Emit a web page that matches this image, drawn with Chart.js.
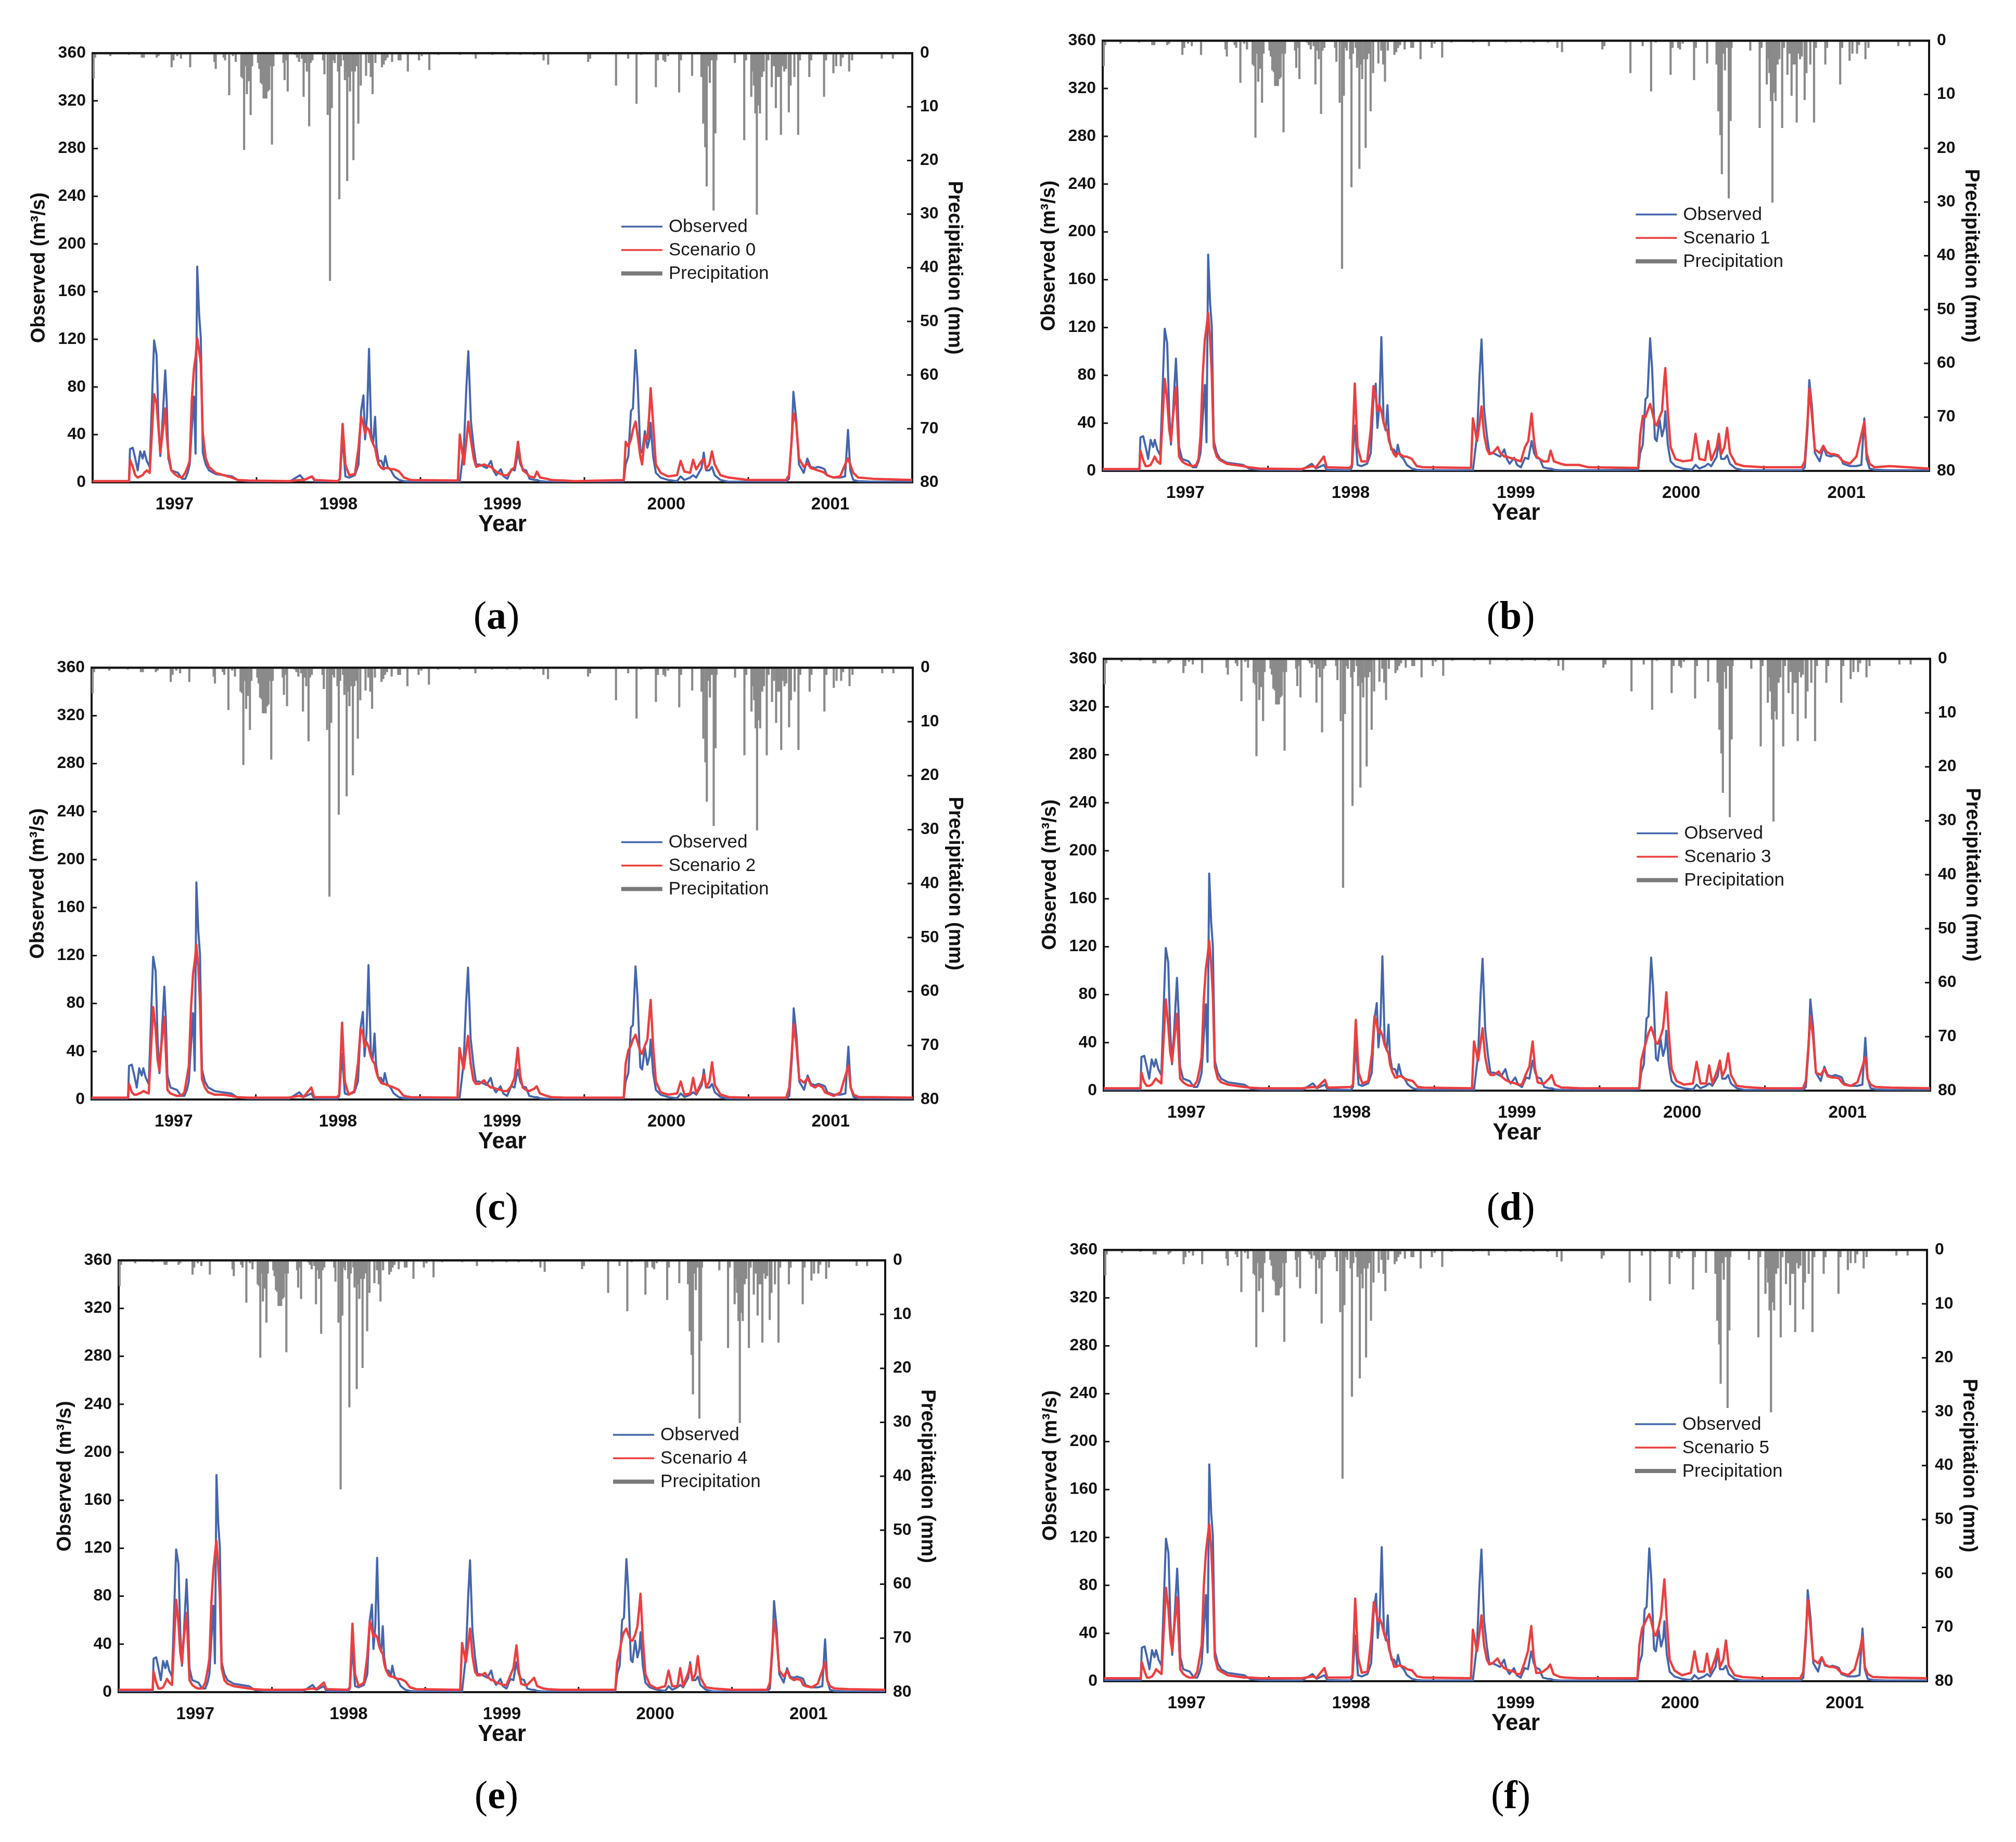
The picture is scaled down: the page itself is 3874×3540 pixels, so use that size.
<!DOCTYPE html>
<html>
<head>
<meta charset="utf-8">
<script src="https://cdn.jsdelivr.net/npm/chart.js@4.4.1/dist/chart.umd.min.js"></script>
<style>
html,body{margin:0;padding:0;background:#fff;}
#page{position:relative;width:3874px;height:3540px;overflow:hidden;background:#fff;}
.panel{position:absolute;}
.panel canvas{display:block;}
.cap{position:absolute;font-family:"Liberation Serif","DejaVu Serif",serif;font-size:76px;color:#000;transform:translate(-50%,-50%);white-space:nowrap;line-height:1;}
.cap b{font-weight:bold;}
</style>
</head>
<body>
<div id="page"></div>
<script>
// ---------------- DATA ----------------
const YEAR_LABELS = [1997, 1998, 1999, 2000, 2001];
const YEAR_MARKS = [1997.5, 1998.5, 1999.5, 2000.5];

const T_FLOW = [
1996.500,1996.722,1996.728,1996.745,1996.760,1996.775,1996.790,1996.805,1996.815,1996.830,
1996.848,1996.875,1996.890,1996.902,1996.913,1996.925,1996.943,1996.952,1996.962,1996.980,
1997.000,1997.020,1997.045,1997.065,1997.080,1997.092,1997.105,1997.118,1997.128,1997.138,
1997.150,1997.160,1997.172,1997.190,1997.210,1997.250,1997.300,1997.350,1997.385,1997.450,
1997.700,1997.765,1997.790,1997.838,1997.855,1997.995,1998.008,1998.025,1998.042,1998.065,
1998.100,1998.122,1998.138,1998.152,1998.162,1998.174,1998.186,1998.200,1998.212,1998.223,
1998.232,1998.245,1998.262,1998.275,1998.285,1998.300,1998.320,1998.340,1998.370,1998.400,
1998.440,1998.728,1998.740,1998.765,1998.780,1998.792,1998.808,1998.825,1998.840,1998.860,
1998.890,1998.905,1998.930,1998.945,1998.962,1998.990,1999.007,1999.030,1999.055,1999.075,
1999.095,1999.110,1999.125,1999.145,1999.165,1999.195,1999.210,1999.230,1999.270,1999.300,
1999.380,1999.440,1999.740,1999.752,1999.768,1999.784,1999.796,1999.812,1999.824,1999.841,
1999.852,1999.869,1999.884,1999.897,1999.904,1999.919,1999.936,1999.965,2000.010,2000.065,
2000.087,2000.110,2000.145,2000.163,2000.182,2000.215,2000.228,2000.242,2000.262,2000.278,
2000.295,2000.330,2000.380,2000.500,2000.730,2000.748,2000.764,2000.775,2000.792,2000.809,
2000.838,2000.860,2000.880,2000.905,2000.925,2000.950,2000.965,2000.980,2001.020,2001.060,
2001.090,2001.108,2001.122,2001.140,2001.170,2001.260,2001.500
];

const OBSERVED = [
1,1,28,29,20,10,26,20,26,18,
13,119,107,50,22,48,94,67,20,10,
9,8,3,3,8,15,45,72,24,181,
140,121,25,15,10,7,6,5,2,1,
0.5,6,2,5,1,0.5,3,38,5,4,
6,15,60,73,36,55,112,40,34,55,
29,18,18,13,22,13,10,5,2,1,
0.5,0.5,0.5,30,80,110,51,29,15,15,
13,12,18,10,6,11,5,3,11,10,
25,15,11,10,3,2,2,1,0.5,0.5,
0.5,0.5,1,15,22,60,62,111,86,27,
25,43,29,36,50,22,8,4,2,1,
5,2,4,6,4,12,25,10,10,13,
6,2,0.5,0.5,0.5,3,34,76,53,15,
8,20,13,12,13,12,11,6,4,4,
5,44,10,2,1,0.5,0.5
];

const SCENARIO_0 = [
1,1,19,13,6,4,5,6,8,10,
8,74,66,45,25,39,62,40,25,10,
7,5,4,8,13,18,69,95,105,121,
110,100,41,20,13,8,6,4,2,1.5,
1,2,2,5,2,1,3,49,15,6,
7,29,55,48,41,46,44,36,32,29,
22,15,12,11,12,12,11,11,9,4,
2,1.5,40,15,35,51,35,20,13,14,
15,14,13,11,9,7,6,6,10,13,
34,18,10,8,5,4,9,4,3,2,
1.5,1,2,34,30,36,44,51,40,22,
15,39,36,60,79,50,15,8,5,6,
18,9,8,19,11,18,20,11,15,26,
15,6,4,2,2,6,35,58,50,20,
13,16,12,11,10,9,8,6,4,5,
15,20,15,8,4,3,2
];

const SCENARIO_1 = [
1.5,1.5,17,9,4,4,5,9,12,8,
6,77,60,35,25,45,70,40,12,8,
6,5,4,5,10,30,80,110,120,132,
110,80,20,12,9,6,5,4,3,2,
1.5,4,3,12,3,2.5,5,73,20,8,
8,35,71,62,50,55,50,40,36,33,
25,20,14,12,15,14,12,12,10,4,
3,2.5,44,25,40,54,30,18,14,15,
20,15,12,12,11,10,9,8,20,25,
48,25,12,10,8,8,17,8,6,5,
5,3,2.5,30,46,45,50,56,50,40,
38,45,50,75,86,50,20,10,8,9,
31,10,9,25,9,20,31,14,20,36,
15,6,4,3,3,8,40,69,45,18,
15,21,16,14,14,13,10,8,6,12,
30,41,15,6,3,4,2
];

const SCENARIO_2 = [
1.5,1.5,13,6,4,4,5,6,7,6,
5,77,58,33,24,45,69,40,8,5,
4,3,3,6,18,28,75,105,115,129,
110,80,17,10,6,4,4,3,2,1.5,
1.5,3,2,10,2,2,4,64,15,4,
7,30,59,55,44,48,44,36,32,30,
24,18,14,13,13,12,11,10,8,3,
2,1.5,43,25,40,53,30,16,13,13,
16,13,10,10,9,8,7,7,11,18,
43,20,10,8,7,9,11,5,3,2,
1.5,1.5,1.5,30,41,45,50,54,48,40,
38,45,50,72,83,45,15,6,4,5,
15,4,5,18,5,15,21,10,15,31,
12,4,2,1.5,1.5,10,40,63,45,17,
14,18,12,10,12,10,6,5,3,6,
20,28,10,4,2,2,1.5
];

const SCENARIO_3 = [
2,2,15,7,4,4,5,8,10,8,
6,76,55,32,24,40,64,38,10,7,
5,4,4,8,18,28,75,102,112,125,
105,80,20,10,7,5,4,3,2.5,2,
2,3,2.5,9,2.5,3,5,59,15,6,
8,30,62,55,48,50,46,38,34,31,
22,16,11,11,12,12,10,9,8,3,
2.5,2,41,25,40,52,28,16,13,13,
16,12,9,8,7,6,5,5,14,20,
41,18,7,6,6,10,13,5,2.5,2.5,
2,2,2,25,34,42,48,53,48,40,
39,45,52,70,82,48,18,8,5,6,
24,6,6,21,6,18,25,12,18,31,
13,4,3,2,2,8,38,62,45,15,
13,18,12,11,11,10,7,5,4,7,
20,28,10,5,3,2.5,2
];

const SCENARIO_4 = [
2,2,17,8,3,3,4,8,11,8,
6,77,58,33,24,45,66,40,10,6,
4,3,3,8,18,28,75,102,115,126,
105,80,20,10,7,5,4,3,2.5,2,
2,3,2.5,8,2.5,2,4,57,15,5,
8,30,59,52,46,48,46,38,34,32,
24,18,14,13,13,12,11,11,9,4,
2.5,2,41,25,40,53,30,17,14,14,
16,13,10,10,8,7,6,6,14,20,
39,18,7,6,6,10,12,5,3,2.5,
2,2,2,25,34,45,50,53,48,43,
43,48,55,72,82,45,15,6,3,5,
18,5,5,20,5,16,23,10,15,30,
12,4,3,2,2,8,38,60,45,18,
13,18,12,10,11,10,6,5,4,7,
18,25,10,5,3,2.5,2
];

const SCENARIO_5 = [
2.5,2.5,16,8,3,3,4,7,10,8,
6,78,60,35,25,45,70,40,10,6,
4,3,3,8,20,30,80,108,120,131,
110,80,20,10,8,5,4,3,3,2.5,
2.5,4,3,11,3,3,5,69,20,7,
8,35,66,58,50,52,48,40,36,33,
26,20,12,12,13,13,12,10,9,4,
3,2.5,43,25,40,55,30,18,14,15,
19,15,11,10,9,8,6,6,16,25,
46,20,7,7,8,11,14,6,3.5,3,
2.5,2.5,2.5,30,44,48,52,56,50,40,
38,45,55,75,85,50,18,9,5,7,
25,8,8,23,7,20,27,12,18,34,
13,5,3.5,2.5,2.5,8,40,68,45,18,
15,20,14,12,12,11,9,7,5,10,
25,37,12,6,3.5,3,2.5
];

const PRECIP_T = [
1996.506,1996.515,1996.608,1996.721,1996.800,1996.812,1996.891,1996.902,1996.982,1996.993,
1997.016,1997.039,1997.095,1997.243,1997.251,1997.299,1997.308,1997.333,1997.356,1997.373,
1997.407,1997.416,1997.424,1997.432,1997.441,1997.452,1997.464,1997.473,1997.509,1997.517,
1997.526,1997.535,1997.543,1997.551,1997.560,1997.569,1997.577,1997.586,1997.594,1997.603,
1997.664,1997.671,1997.683,1997.690,1997.736,1997.747,1997.759,1997.776,1997.787,1997.798,
1997.807,1997.821,1997.830,1997.841,1997.906,1997.914,1997.934,1997.948,1997.959,1997.968,
1997.977,1997.997,1998.005,1998.014,1998.031,1998.039,1998.048,1998.053,1998.061,1998.070,
1998.082,1998.091,1998.100,1998.110,1998.121,1998.136,1998.168,1998.185,1998.197,1998.208,
1998.225,1998.265,1998.276,1998.287,1998.299,1998.327,1998.367,1998.378,1998.423,1998.491,
1998.508,1998.554,1998.610,1998.741,1998.837,1998.939,1999.030,1999.109,1999.194,1999.251,
1999.279,1999.523,1999.535,1999.693,1999.767,1999.818,1999.846,1999.936,1999.948,1999.982,
1999.993,2000.010,2000.078,2000.089,2000.157,2000.214,2000.225,2000.237,2000.246,2000.255,
2000.265,2000.277,2000.288,2000.299,2000.305,2000.418,2000.475,2000.486,2000.518,2000.526,
2000.534,2000.543,2000.552,2000.560,2000.571,2000.583,2000.594,2000.611,2000.622,2000.643,
2000.656,2000.668,2000.679,2000.690,2000.699,2000.707,2000.719,2000.730,2000.747,2000.758,
2000.781,2000.804,2000.815,2000.872,2000.883,2000.962,2000.974,2001.019,2001.036,2001.064,
2001.076,2001.115,2001.133,2001.314,2001.382
];

const PRECIP_MM = [
4.7,0.8,0.5,0.3,0.8,0.8,0.8,0.5,2.6,1.3,
0.5,1.0,2.6,1.6,2.9,0.8,1.3,7.8,0.5,1.6,
4.4,4.7,18.0,2.4,7.6,5.2,11.5,2.4,1.8,2.9,
5.5,5.8,8.4,8.4,8.4,7.1,6.8,2.4,17.0,2.4,
1.8,5.0,1.3,7.1,0.3,0.8,1.6,1.0,8.1,1.8,
3.4,13.6,1.8,1.3,1.3,3.9,11.5,42.4,10.2,1.3,
1.8,3.4,27.2,2.4,1.3,5.0,3.4,23.8,4.4,7.1,
3.4,19.9,3.4,2.4,13.1,6.0,4.2,1.8,4.4,7.6,
1.8,2.6,2.1,1.3,0.8,1.6,1.3,1.3,3.4,1.3,
0.5,3.1,0.3,0.3,1.0,0.3,0.3,0.3,0.3,1.3,
2.1,1.6,1.0,6.0,1.0,9.4,0.3,6.3,1.3,1.3,
1.6,0.5,7.3,1.3,4.2,4.4,13.1,17.5,24.8,2.4,
5.5,1.3,29.3,14.9,1.3,1.8,16.2,1.3,8.1,3.4,
6.0,11.2,30.1,9.7,11.2,4.4,3.4,16.2,1.3,6.3,
2.4,10.2,4.4,4.4,15.2,2.4,3.4,2.9,11.0,6.0,
4.4,15.2,1.3,4.4,1.3,8.1,1.3,3.7,2.4,2.4,
0.8,3.4,1.3,1.0,1.0
];

const SCENARIO_NAMES = ['Scenario 0','Scenario 1','Scenario 2','Scenario 3','Scenario 4','Scenario 5'];
const SCENARIO_SERIES = [SCENARIO_0, SCENARIO_1, SCENARIO_2, SCENARIO_3, SCENARIO_4, SCENARIO_5];
const PANEL_LETTERS = ['a','b','c','d','e','f'];

// ---------------- LAYOUT / STYLE ----------------
const PANEL_BOXES = [
  {L:178,  T:98,   R:1753, B:927,  cx:954,  cy:1182},
  {L:2119, T:74,   R:3707, B:905,  cx:2903, cy:1182},
  {L:176,  T:1279, R:1754, B:2113, cx:954,  cy:2318},
  {L:2121, T:1262, R:3709, B:2096, cx:2903, cy:2318},
  {L:228,  T:2418, R:1701, B:3252, cx:954,  cy:3449},
  {L:2122, T:2398, R:3703, B:3231, cx:2903, cy:3449}
];
const PAD_L = 125, PAD_R = 103, PAD_T = 30, PAD_B = 108;
const FONT = '"Liberation Sans", Arial, Helvetica, sans-serif';
const BLUE = '#4566ad', RED = '#ec3f3f', GRAY = '#8a8a8a', AXIS = '#161616', TXT = '#111';

const framePlugin = {
  id: 'frame',
  beforeDatasetsDraw(chart) {
    const {ctx, chartArea: a, scales} = chart;
    ctx.save();
    ctx.strokeStyle = AXIS;
    ctx.lineWidth = 4;
    ctx.strokeRect(a.left, a.top, a.right - a.left, a.bottom - a.top);
    ctx.lineWidth = 3;
    ctx.beginPath();
    scales.y.ticks.forEach(t => { const p = scales.y.getPixelForValue(t.value); ctx.moveTo(a.left, p); ctx.lineTo(a.left + 10, p); });
    scales.y2.ticks.forEach(t => { const p = scales.y2.getPixelForValue(t.value); ctx.moveTo(a.right, p); ctx.lineTo(a.right - 10, p); });
    YEAR_MARKS.forEach(v => { const p = scales.x.getPixelForValue(v); ctx.moveTo(p, a.bottom); ctx.lineTo(p, a.bottom - 10); });
    ctx.stroke();
    ctx.restore();
  },
  afterDatasetsDraw(chart) {
    const {ctx, chartArea: a} = chart;
    ctx.save();
    ctx.strokeStyle = AXIS;
    ctx.lineWidth = 4;
    ctx.beginPath();
    ctx.moveTo(a.left - 2, a.top); ctx.lineTo(a.right + 2, a.top);
    ctx.stroke();
    ctx.restore();
  }
};

const legendPlugin = {
  id: 'panelLegend',
  afterDatasetsDraw(chart) {
    const {ctx, chartArea: a} = chart;
    const x0 = a.left + 0.645 * (a.right - a.left);
    let y = a.top + 0.404 * (a.bottom - a.top);
    ctx.save();
    ctx.font = '35px ' + FONT;
    ctx.textBaseline = 'middle';
    ctx.textAlign = 'left';
    ctx.fillStyle = '#1a1a1a';
    chart.data.datasets.forEach(ds => {
      const isBar = ds.type === 'bar';
      ctx.strokeStyle = isBar ? '#7a7a7a' : ds.borderColor;
      ctx.lineWidth = isBar ? 8 : 3.5;
      ctx.beginPath();
      ctx.moveTo(x0, y); ctx.lineTo(x0 + 79, y);
      ctx.stroke();
      ctx.fillText(ds.label, x0 + 91, y + 1);
      y += 45;
    });
    ctx.restore();
  }
};

const page = document.getElementById('page');

PANEL_BOXES.forEach((p, k) => {
  const w = p.R - p.L + PAD_L + PAD_R;
  const h = p.B - p.T + PAD_T + PAD_B;
  const div = document.createElement('div');
  div.className = 'panel';
  div.style.left = (p.L - PAD_L) + 'px';
  div.style.top = (p.T - PAD_T) + 'px';
  div.style.width = w + 'px';
  div.style.height = h + 'px';
  const cv = document.createElement('canvas');
  cv.width = w; cv.height = h;
  cv.style.width = w + 'px'; cv.style.height = h + 'px';
  div.appendChild(cv);
  page.appendChild(div);

  const cap = document.createElement('div');
  cap.className = 'cap';
  cap.style.left = p.cx + 'px';
  cap.style.top = p.cy + 'px';
  cap.innerHTML = '(<b>' + PANEL_LETTERS[k] + '</b>)';
  page.appendChild(cap);

  const scen = SCENARIO_SERIES[k];
  new Chart(cv, {
    type: 'line',
    data: {
      datasets: [
        {
          label: 'Observed',
          data: T_FLOW.map((t, i) => ({x: t, y: OBSERVED[i]})),
          borderColor: BLUE, borderWidth: 4, pointRadius: 0, tension: 0,
          borderJoinStyle: 'round', yAxisID: 'y', xAxisID: 'x', order: 1, fill: false
        },
        {
          label: SCENARIO_NAMES[k],
          data: T_FLOW.map((t, i) => ({x: t, y: scen[i]})),
          borderColor: RED, borderWidth: 4.5, pointRadius: 0, tension: 0,
          borderJoinStyle: 'round', yAxisID: 'y', xAxisID: 'x', order: 0, fill: false
        },
        {
          type: 'bar',
          label: 'Precipitation',
          data: PRECIP_T.map((t, i) => ({x: t, y: PRECIP_MM[i]})),
          backgroundColor: GRAY, borderWidth: 0, barThickness: 3.5,
          yAxisID: 'y2', xAxisID: 'x', order: 2
        }
      ]
    },
    options: {
      responsive: false,
      animation: false,
      devicePixelRatio: 1,
      layout: {padding: {top: PAD_T, left: 0, right: 0, bottom: 0}},
      plugins: {legend: {display: false}, tooltip: {enabled: false}},
      scales: {
        x: {
          type: 'linear', min: 1996.5, max: 2001.5, offset: false,
          grid: {display: false, drawTicks: false},
          border: {display: false},
          afterBuildTicks: s => { s.ticks = YEAR_LABELS.map(v => ({value: v})); },
          ticks: {
            autoSkip: false, maxRotation: 0, minRotation: 0, padding: 23, color: TXT,
            font: {family: FONT, size: 33, weight: 'bold'},
            callback: v => String(v)
          },
          title: {display: true, text: 'Year', color: TXT, padding: 0,
                  font: {family: FONT, size: 44, weight: 'bold', lineHeight: 1.2}},
          afterFit: s => { s.height = PAD_B; }
        },
        y: {
          type: 'linear', position: 'left', min: 0, max: 360,
          grid: {display: false, drawTicks: false},
          border: {display: false},
          ticks: {stepSize: 40, padding: 13, color: TXT, font: {family: FONT, size: 32, weight: 'bold'},
                  callback: v => String(v)},
          title: {display: true, text: 'Observed (m\u00B3/s)', color: TXT, padding: 0,
                  font: {family: FONT, size: 38, weight: 'bold', lineHeight: 1.2}},
          afterFit: s => { s.width = PAD_L; }
        },
        y2: {
          type: 'linear', position: 'right', min: 0, max: 80, reverse: true,
          grid: {display: false, drawTicks: false},
          border: {display: false},
          ticks: {stepSize: 10, padding: 15, color: TXT, font: {family: FONT, size: 32, weight: 'bold'},
                  callback: v => String(v)},
          title: {display: true, text: 'Precipitation (mm)', color: TXT, padding: 0,
                  font: {family: FONT, size: 38, weight: 'bold', lineHeight: 1.2}},
          afterFit: s => { s.width = PAD_R; }
        }
      }
    },
    plugins: [framePlugin, legendPlugin]
  });
});
</script>
</body>
</html>
